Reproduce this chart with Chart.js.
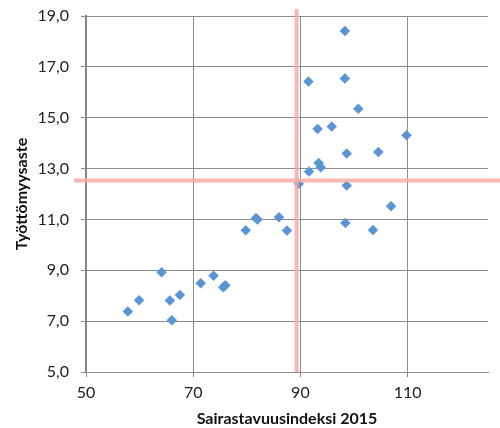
<!DOCTYPE html>
<html>
<head>
<meta charset="utf-8">
<script src="https://cdn.jsdelivr.net/npm/chart.js@4"></script>
<style>
  html, body { margin: 0; padding: 0; background: #fff; }
  #wrap { width: 500px; height: 428px; position: relative; }
</style>
</head>
<body>
<div id="wrap"><canvas id="c" width="500" height="428"></canvas></div>
<script>
// Sairastavuusindeksi (x) vs. työttömyysaste (y), one point per area
const sairastavuus = [98.3, 91.5, 98.3, 100.8, 93.2, 95.85, 109.8, 98.65, 104.55, 93.4, 93.8, 91.6,
  89.7, 98.65, 106.9, 98.4, 103.55, 87.5, 79.8, 81.7, 82.0, 86.0, 64.1, 59.9, 57.8, 65.65, 67.5,
  66.0, 71.4, 73.8, 75.6, 76.0];
const tyottomyys = [18.41, 16.42, 16.54, 15.35, 14.56, 14.65, 14.31, 13.59, 13.65, 13.22, 13.05, 12.88,
  12.40, 12.33, 11.52, 10.86, 10.58, 10.56, 10.57, 11.05, 11.00, 11.09, 8.92, 7.82, 7.38, 7.81, 8.03,
  7.04, 8.49, 8.79, 8.33, 8.41];

// Reference lines (averages)
const refX = 89.3;
const refY = 12.53;

const xTicks = [50, 70, 90, 110];
const yTicks = [5, 7, 9, 11, 13, 15, 17, 19];

const points = sairastavuus.map((x, i) => ({ x, y: tyottomyys[i] }));

const refLines = {
  id: 'refLines',
  afterDatasetsDraw(chart) {
    const { ctx, scales: { x, y }, chartArea } = chart;
    const px = x.getPixelForValue(refX);
    const py = y.getPixelForValue(refY);
    ctx.save();
    ctx.strokeStyle = 'rgba(246,170,165,0.85)';
    ctx.lineWidth = 4;
    ctx.beginPath();
    ctx.moveTo(px, chartArea.top - 7);
    ctx.lineTo(px, chartArea.bottom);
    ctx.stroke();
    ctx.beginPath();
    ctx.moveTo(chartArea.left - 12, py);
    ctx.lineTo(chart.width, py);
    ctx.stroke();
    ctx.restore();
  }
};

new Chart(document.getElementById('c'), {
  type: 'scatter',
  data: {
    datasets: [{
      data: points,
      pointStyle: 'rectRot',
      pointRadius: 5,
      pointHoverRadius: 5,
      backgroundColor: '#5b94d3',
      borderColor: '#5b94d3',
      borderWidth: 0.5
    }]
  },
  options: {
    responsive: false,
    animation: false,
    events: [],
    layout: { padding: { top: 16, right: 12, left: 0, bottom: 0 } },
    plugins: { legend: { display: false }, tooltip: { enabled: false } },
    scales: {
      x: {
        type: 'linear',
        min: 50,
        max: 125,
        afterBuildTicks(scale) { scale.ticks = xTicks.map(v => ({ value: v })); },
        afterFit(scale) {
          scale.height = 56;
          scale.paddingLeft = 0;
          scale.paddingRight = 0;
        },
        grid: { color: '#8c8c8c', lineWidth: 1, tickLength: 5, drawTicks: true },
        border: { color: '#8c8c8c', width: 1 },
        ticks: {
          color: '#222',
          font: { family: 'Lato', size: 16 },
          padding: 6,
          maxRotation: 0,
          callback: v => String(v)
        },
        title: {
          display: true,
          text: 'Sairastavuusindeksi 2015',
          color: '#111',
          font: { family: 'Lato', size: 16, weight: 'bold' },
          padding: { top: 0, bottom: 0 }
        }
      },
      y: {
        type: 'linear',
        min: 5,
        max: 19,
        afterBuildTicks(scale) { scale.ticks = yTicks.map(v => ({ value: v })); },
        afterFit(scale) {
          scale.width = 86;
          scale.paddingTop = 0;
          scale.paddingBottom = 0;
        },
        grid: { color: '#8c8c8c', lineWidth: 1, tickLength: 5, drawTicks: true },
        border: { color: '#858585', width: 2 },
        ticks: {
          color: '#222',
          font: { family: 'Lato', size: 16 },
          padding: 12,
          callback: v => v.toFixed(1).replace('.', ',')
        },
        title: {
          display: true,
          text: 'Työttömyysaste',
          color: '#111',
          font: { family: 'Lato', size: 16, weight: 'bold' },
          padding: { top: 12, bottom: 0 }
        }
      }
    }
  },
  plugins: [refLines]
});
</script>
</body>
</html>
